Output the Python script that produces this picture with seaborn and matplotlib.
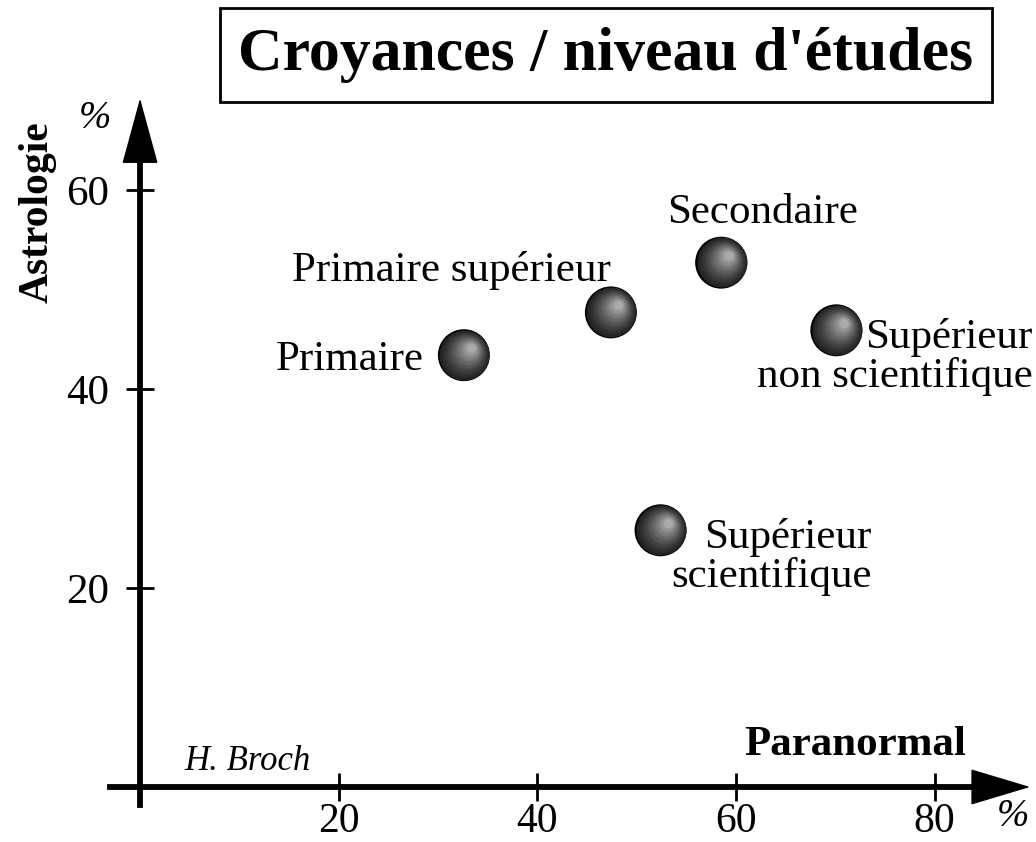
import pandas as pd
import matplotlib.pyplot as plt
import matplotlib.transforms as mtransforms
import seaborn as sns

# values
niveaux = ["Primaire", "Primaire supérieur", "Secondaire",
           "Supérieur\nnon scientifique", "Supérieur\nscientifique"]
paranormal = [32.6, 47.4, 58.5, 70.1, 52.4]
astrologie = [43.4, 47.7, 52.7, 45.9, 25.8]
x_ticks = [20, 40, 60, 80]
y_ticks = [20, 40, 60]

df = pd.DataFrame({"niveau": niveaux, "Paranormal": paranormal, "Astrologie": astrologie})

sns.set_style("white")
plt.rcParams["font.family"] = ["Liberation Serif", "DejaVu Serif"]
plt.rcParams["text.color"] = "black"

W, H = 1036, 842
fig = plt.figure(figsize=(W / 100, H / 100), dpi=100)
ax = fig.add_axes([0, 0, 1, 1])
ax.set_xlim(-14.1, 90.2)
ax.set_ylim(-5.53, 79.1)

# axes as arrows through the origin
ax.spines["top"].set_visible(False)
ax.spines["right"].set_visible(False)
ax.spines["left"].set_position(("data", 0))
ax.spines["bottom"].set_position(("data", 0))
ax.spines["left"].set_bounds(-1.8, 64)
ax.spines["bottom"].set_bounds(-3, 85)
for s in ["left", "bottom"]:
    ax.spines[s].set_linewidth(4.2)
    ax.spines[s].set_color("black")
ax.set_xticks(x_ticks)
ax.set_yticks(y_ticks)
ax.tick_params(bottom=True, left=True, direction="inout", length=20, width=2,
               color="black", labelcolor="black", labelsize=31)
ax.tick_params(axis="x", pad=1, labelsize=30)
ax.tick_params(axis="y", pad=12)

arrow = dict(mutation_scale=20, lw=1, color="black", shrinkA=0, shrinkB=0)
ax.annotate("", xy=(0, 69.2), xytext=(0, 62),
            arrowprops=dict(arrowstyle="-|>,head_length=2.2,head_width=0.6", **arrow))
ax.annotate("", xy=(89.6, 0), xytext=(83, 0),
            arrowprops=dict(arrowstyle="-|>,head_length=2.0,head_width=0.6", **arrow))

# spheres: black disc plus shaded highlight layers
sns.scatterplot(data=df, x="Paranormal", y="Astrologie", s=1400, color="black",
                edgecolor="none", legend=False, ax=ax, zorder=3)
n = 16
for i in range(1, n):
    f = i / n
    d = 48 * (1 - f) + 5
    shift = 8 * f
    tr = mtransforms.offset_copy(ax.transData, fig=fig, x=shift, y=shift, units="dots")
    g = 0.12 + 0.6 * f ** 1.3
    ax.scatter(df["Paranormal"], df["Astrologie"], s=(d * 0.72) ** 2, color=str(g),
               linewidths=0, transform=tr, zorder=3 + i)

# point labels
offsets = [(-40, -5, "right"), (-159, 42, "center"), (41, 50, "center"),
           (196, -27, "right"), (211, -27, "right")]
for (lab, px, py), (dx, dy, ha) in zip(zip(niveaux, paranormal, astrologie), offsets):
    ax.annotate(lab, xy=(px, py), xytext=(dx, dy), textcoords="offset pixels",
                ha=ha, va="center", multialignment="right", fontsize=31,
                linespacing=1.0, color="black")

ax.set_xlabel("")
ax.set_ylabel("")


def fx(x):
    return x / W


def fy(y):
    return 1 - y / H


fig.text(fx(606), fy(55), "Croyances / niveau d'études", fontsize=44.5, fontweight="bold",
         ha="center", va="center",
         bbox=dict(boxstyle="square,pad=0.3", facecolor="white", edgecolor="black", lw=2))
fig.text(fx(38), fy(212), "Astrologie", fontsize=30, fontweight="bold", rotation=90,
         ha="center", va="center")
fig.text(fx(855), fy(745), "Paranormal", fontsize=31, fontweight="bold",
         ha="center", va="center")
fig.text(fx(95), fy(118), "%", fontsize=28, style="italic", ha="center", va="center")
fig.text(fx(1013), fy(816), "%", fontsize=28, style="italic", ha="center", va="center")
fig.text(fx(247), fy(762), "H. Broch", fontsize=25, style="italic", ha="center", va="center")

fig.savefig("out.png", dpi=100, facecolor="white")
